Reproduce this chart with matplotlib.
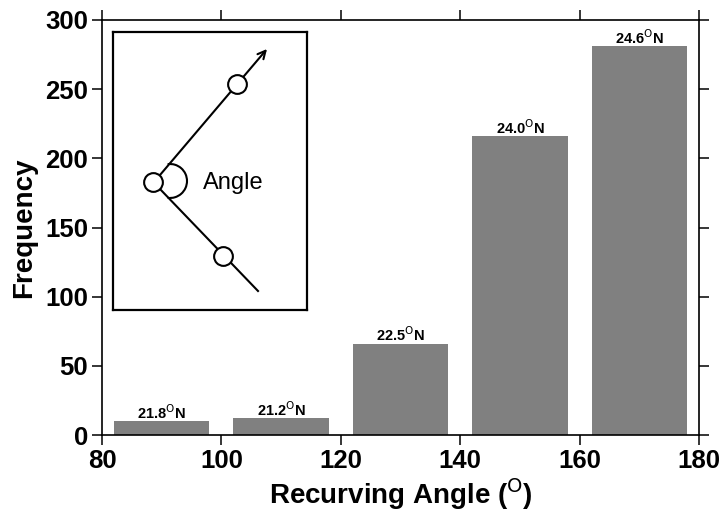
import matplotlib
matplotlib.use("Agg")
import matplotlib.pyplot as plt
from matplotlib.patches import Arc

# ── Data ───────────────────────────────────────────────────────────────────
ANGLE_CENTERS = [90, 110, 130, 150, 170]
FREQUENCY     = [10, 12, 66, 216, 281]
MEAN_LAT      = ["21.8", "21.2", "22.5", "24.0", "24.6"]
X_TICKS       = [80, 100, 120, 140, 160, 180]
Y_TICKS       = [0, 50, 100, 150, 200, 250, 300]

# inset sketch, in inset pixel units (y down)
TRACK_UP   = ([160, 267], [175, 49])
TRACK_DOWN = ([159, 258], [188, 291])
POSITIONS  = ([153, 237, 223], [182, 84, 256])

plt.rcParams["font.family"] = ["Liberation Sans", "DejaVu Sans"]

fig = plt.figure(figsize=(7.24, 5.18), dpi=100)
ax = fig.add_axes([0.1409, 0.1602, 0.8246, 0.8012])

ax.bar(ANGLE_CENTERS, FREQUENCY, width=16, color="#808080", edgecolor="none")
for x, f, lat in zip(ANGLE_CENTERS, FREQUENCY, MEAN_LAT):
    ax.text(x, f - 0.5, lat + r"$^{\rm O}$N", ha="center", va="bottom",
            fontsize=10.5, fontweight="bold")

ax.set_xlim(80, 180)
ax.set_ylim(0, 300)
ax.set_xticks(X_TICKS)
ax.set_yticks(Y_TICKS)
ax.tick_params(axis="both", which="major", direction="out", length=7, width=1.1,
               top=True, right=True, labelsize=18.5, pad=3)
for lab in ax.get_xticklabels() + ax.get_yticklabels():
    lab.set_fontweight("bold")
for sp in ax.spines.values():
    sp.set_linewidth(1.2)

ax.set_xlabel(r"Recurving Angle ($^{\rm O}$)", fontsize=20, fontweight="bold", labelpad=2)
ax.set_ylabel("Frequency", fontsize=20, fontweight="bold", labelpad=6)

# ── Inset sketch ───────────────────────────────────────────────────────────
ins = fig.add_axes([113 / 724, (518 - 310) / 518, 194 / 724, 278 / 518])
ins.set_xlim(113, 307)
ins.set_ylim(310, 32)
ins.set_xticks([])
ins.set_yticks([])
for sp in ins.spines.values():
    sp.set_linewidth(1.6)

ins.plot(*TRACK_DOWN, color="black", lw=1.5)
ins.annotate("", xy=(TRACK_UP[0][1], TRACK_UP[1][1]),
             xytext=(TRACK_UP[0][0], TRACK_UP[1][0]),
             arrowprops=dict(arrowstyle="->", lw=1.5, color="black",
                             mutation_scale=14, shrinkA=0, shrinkB=0))
ins.add_patch(Arc((170, 181), 34, 34, theta1=-98, theta2=98, lw=1.5, color="black"))
ins.plot(*POSITIONS, "o", ms=13.5, mfc="white", mec="black", mew=1.5, zorder=5)
ins.text(203, 183, "Angle", fontsize=17, ha="left", va="center")

fig.savefig("out.png", dpi=100)
